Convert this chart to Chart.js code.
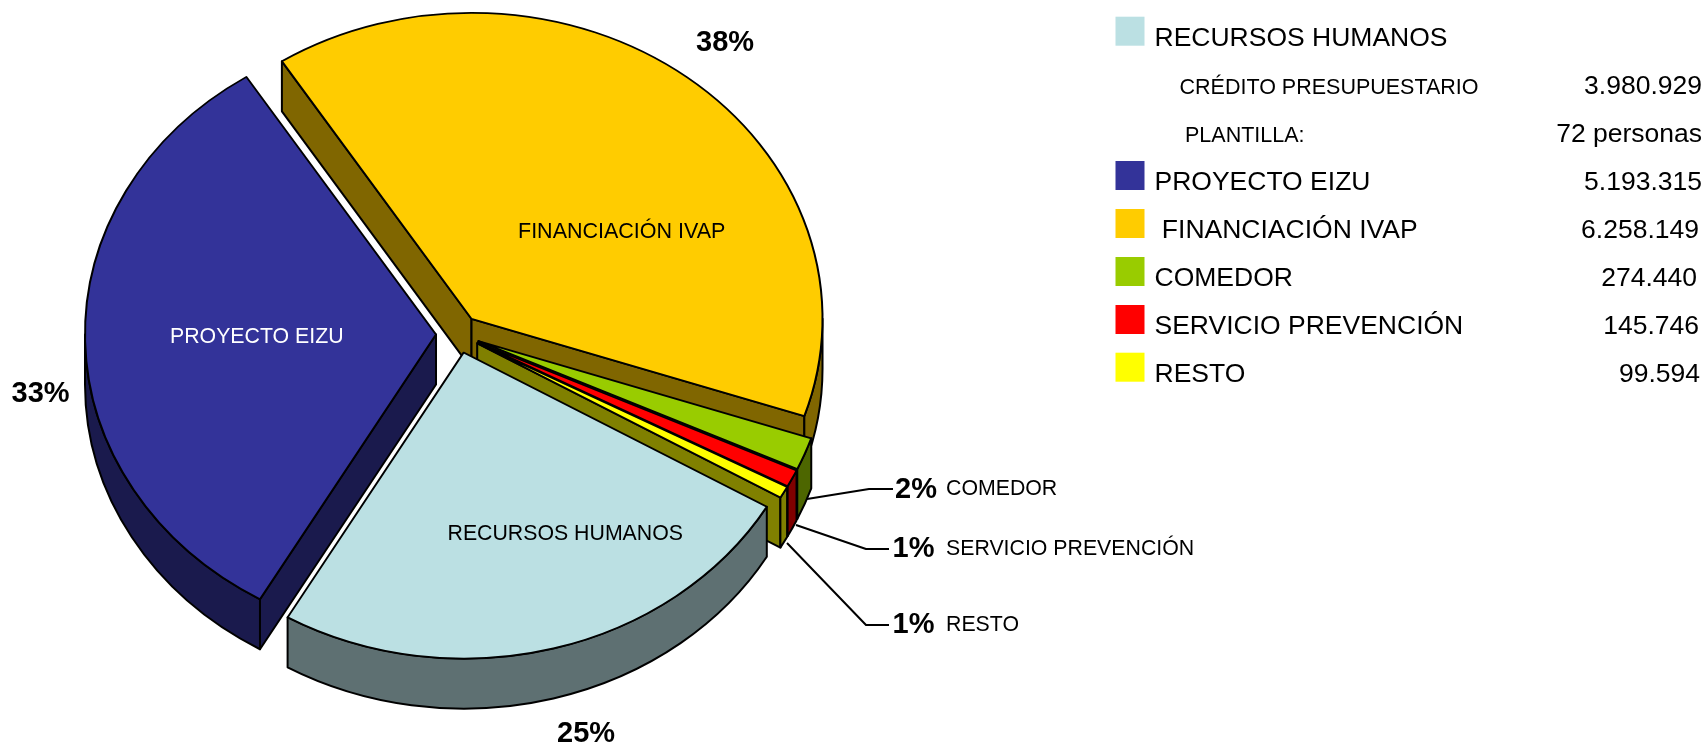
<!DOCTYPE html>
<html>
<head>
<meta charset="utf-8">
<title>Presupuesto</title>
<script src="https://cdn.jsdelivr.net/npm/chart.js@4/dist/chart.umd.js"></script>
<style>
  html, body { margin: 0; padding: 0; background: #fff; }
  canvas { display: block; }
</style>
</head>
<body>
<canvas id="pie" width="1706" height="747"></canvas>
<script>
// slices, clockwise from the top-left cut
const categories = ["FINANCIACIÓN IVAP", "COMEDOR", "SERVICIO PREVENCIÓN", "RESTO", "RECURSOS HUMANOS", "PROYECTO EIZU"];
const values = [6258149, 274440, 145746, 99594, 3980929, 5193315];
const topColors = ["#FFCC00", "#99CC00", "#FF0000", "#FFFF00", "#BBE0E3", "#333399"];
const sideColors = ["#806600", "#4D6600", "#800000", "#808000", "#5E7072", "#1A1A4D"];
const percentLabels = ["38%", "2%", "1%", "1%", "25%", "33%"];

// legend table on the right
const legendNames = ["RECURSOS HUMANOS", "PROYECTO EIZU", " FINANCIACIÓN IVAP", "COMEDOR", "SERVICIO PREVENCIÓN", "RESTO"];
const legendValues = ["", "5.193.315", "6.258.149", "274.440", "145.746", "99.594"];
const legendColors = ["#BBE0E3", "#333399", "#FFCC00", "#99CC00", "#FF0000", "#FFFF00"];

const TILT = 0.872;
const DEPTH = 50;
const EXPLODE = 22;
const FONT = '"Liberation Sans", Arial, sans-serif';

function text(ctx, str, x, y, font, color, align) {
  ctx.font = font;
  ctx.fillStyle = color || "#000";
  ctx.textAlign = align || "left";
  ctx.textBaseline = "alphabetic";
  ctx.fillText(str, x, y);
}

function sliceCentre(arc) {
  const mid = (arc.startAngle + arc.endAngle) / 2;
  return {
    x: arc.x + Math.cos(mid) * EXPLODE,
    y: arc.y + Math.sin(mid) * EXPLODE * TILT
  };
}

function drawSide(ctx, arc, color) {
  const c = sliceCentre(arc);
  const r = arc.outerRadius;
  ctx.fillStyle = color;
  ctx.strokeStyle = "#000";
  ctx.lineWidth = 2;
  ctx.lineJoin = "round";

  // a cut face only shows when it looks down towards the viewer
  const faces = [];
  if (Math.cos(arc.startAngle) < 0) faces.push(arc.startAngle);
  if (Math.cos(arc.endAngle) > 0) faces.push(arc.endAngle);
  faces.forEach(a => {
    const px = c.x + Math.cos(a) * r;
    const py = c.y + Math.sin(a) * r * TILT;
    ctx.beginPath();
    ctx.moveTo(c.x, c.y);
    ctx.lineTo(px, py);
    ctx.lineTo(px, py + DEPTH);
    ctx.lineTo(c.x, c.y + DEPTH);
    ctx.closePath();
    ctx.fill();
    ctx.stroke();
  });

  // outer rim, only the part that faces the viewer
  const from = Math.max(arc.startAngle, 0);
  const to = Math.min(arc.endAngle, Math.PI);
  if (to > from) {
    ctx.beginPath();
    ctx.ellipse(c.x, c.y, r, r * TILT, 0, from, to);
    ctx.ellipse(c.x, c.y + DEPTH, r, r * TILT, 0, to, from, true);
    ctx.closePath();
    ctx.fill();
    ctx.stroke();
  }
}

const pie3d = {
  id: "pie3d",
  beforeDatasetDraw(chart) {
    const ctx = chart.ctx;
    const arcs = chart.getDatasetMeta(0).data;
    // back to front, the big front slice goes last
    [0, 1, 2, 3, 5, 4].forEach(i => drawSide(ctx, arcs[i], sideColors[i]));
    // tops are the chart's own arcs, moved out and flattened to an ellipse
    arcs.forEach(arc => {
      const c = sliceCentre(arc);
      ctx.save();
      ctx.translate(c.x, c.y);
      ctx.scale(1, TILT);
      ctx.translate(-arc.x, -arc.y);
      arc.draw(ctx);
      ctx.restore();
    });
    return false;
  }
};

const annotations = {
  id: "annotations",
  afterDraw(chart) {
    const ctx = chart.ctx;

    // names on the slices
    const small = "21.3px " + FONT;
    text(ctx, categories[0], 518, 238, "21.5px " + FONT, "#000");
    text(ctx, categories[5], 170, 342.5, small, "#fff");
    text(ctx, categories[4], 447.5, 540, small, "#000");

    // percentages
    const bold = "bold 29px " + FONT;
    text(ctx, percentLabels[0], 696, 51, bold);
    text(ctx, percentLabels[5], 11.5, 402, bold);
    text(ctx, percentLabels[4], 557, 742, bold);
    text(ctx, percentLabels[1], 895, 497.5, bold);
    text(ctx, percentLabels[2], 892.5, 557, bold);
    text(ctx, percentLabels[3], 892.5, 633, bold);

    // names of the thin slices
    text(ctx, categories[1], 946, 495, small);
    text(ctx, categories[2], 946, 555, small);
    text(ctx, categories[3], 946, 630.5, small);

    // leader lines
    const leaders = [
      [[807, 499], [869, 489], [893, 489]],
      [[796, 525], [866, 549], [889, 549]],
      [[787, 543], [866, 625], [889, 625]]
    ];
    ctx.strokeStyle = "#000";
    ctx.lineWidth = 2;
    leaders.forEach(pts => {
      ctx.beginPath();
      pts.forEach((p, i) => i ? ctx.lineTo(p[0], p[1]) : ctx.moveTo(p[0], p[1]));
      ctx.stroke();
    });

    // legend table
    const big = "26.5px " + FONT;
    const mid = "21.5px " + FONT;
    const rowBase = [45.7, 190, 238, 286, 334, 381.7];
    const valueRight = [0, 1702, 1699, 1697, 1699, 1700];
    legendNames.forEach((name, i) => {
      ctx.fillStyle = legendColors[i];
      ctx.fillRect(1115.5, rowBase[i] - 29, 29, 29);
      text(ctx, name, 1154.5, rowBase[i], big);
      if (legendValues[i]) {
        text(ctx, legendValues[i], valueRight[i], rowBase[i], big, "#000", "right");
      }
    });
    text(ctx, "CRÉDITO PRESUPUESTARIO", 1179.5, 94, mid);
    text(ctx, "3.980.929", 1702, 94, big, "#000", "right");
    text(ctx, "PLANTILLA:", 1185, 142, mid);
    text(ctx, "72 personas", 1702, 142, big, "#000", "right");
  }
};

new Chart(document.getElementById("pie"), {
  type: "pie",
  data: {
    labels: categories,
    datasets: [{
      data: values,
      backgroundColor: topColors,
      borderColor: "#000",
      borderWidth: 2,
      borderJoinStyle: "round"
    }]
  },
  options: {
    responsive: false,
    animation: false,
    radius: 351,
    rotation: -32.7,
    layout: { padding: { right: 790, bottom: 79 } },
    plugins: {
      legend: { display: false },
      tooltip: { enabled: false }
    }
  },
  plugins: [pie3d, annotations]
});
</script>
</body>
</html>
